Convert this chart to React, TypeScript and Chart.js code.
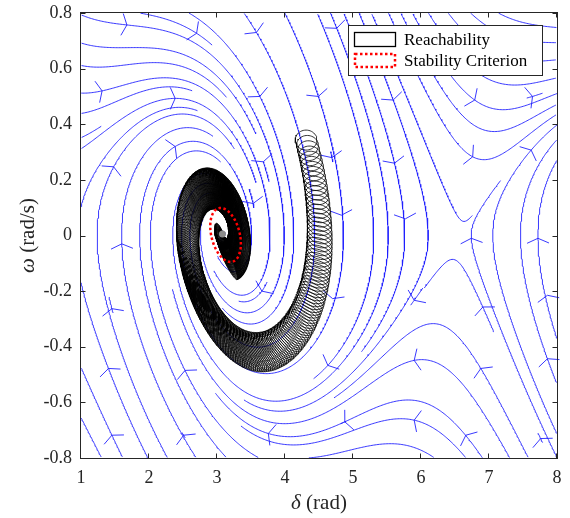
import React, { useEffect, useRef } from "react";
import { Chart, registerables } from "chart.js";

Chart.register(...registerables);

// ---------------- axes ----------------
const X_RANGE = [1, 8];
const Y_RANGE = [-0.8, 0.8];
const X_TICKS = [1, 2, 3, 4, 5, 6, 7, 8];
const Y_TICKS = [-0.8, -0.6, -0.4, -0.2, 0, 0.2, 0.4, 0.6, 0.8];
const X_TITLE = ["δ", " (rad)"];
const Y_TITLE = ["ω", " (rad/s)"];
const LEGEND_LABELS = ["Reachability", "Stability Criterion"];

// ---------------- swing-type model read from the portrait ----------------
const STABLE_EQ_DELTA = 3.1; // stable focus
const SADDLE_EQ_DELTA = 6.57; // saddle point
const STIFFNESS = 0.22;
const DAMPING = 0.27;

// streamline arrow positions (δ, ω)
const ARROW_DELTA = [
  1.675, 2.7, 3.58, 4.76, 1.31, 2.385, 3.63, 4.49, 5.59, 6.79, 7.64, 2.385, 1.48, 3.68,
  4.69, 5.61, 6.76, 7.62, 3.53, 4.83, 5.77, 1.6, 6.74, 7.72, 3.66, 4.7, 5.9, 6.91, 7.86,
  1.455, 1.405, 2.53, 4.63, 5.9, 6.88, 7.86, 1.455, 2.51, 3.755, 4.88, 5.9, 6.66, 7.76,
];
const ARROW_OMEGA = [
  0.757, 0.727, 0.73, 0.745, 0.52, 0.493, 0.5, 0.5, 0.487, 0.487, 0.5, 0.32, 0.247, 0.265,
  0.28, 0.26, 0.283, 0.307, 0.115, 0.073, 0.06, -0.03, -0.01, -0.01, -0.2, -0.227, -0.233,
  -0.257, -0.215, -0.263, -0.478, -0.485, -0.467, -0.449, -0.478, -0.443, -0.718, -0.718,
  -0.712, -0.67, -0.664, -0.718, -0.73,
];

// further streamline crossings read on the left edge (δ, ω)
const EDGE_SEED_DELTA = [1.03, 1.03, 1.03, 1.03, 1.03];
const EDGE_SEED_OMEGA = [0.69, 0.61, 0.44, 0.355, 0.13];

// reachability: initial set and propagation
const REACH_START = [4.31, 0.343];
const REACH_RADII = [0.16, 0.036];
const REACH_TIME_STEP = 0.06;
const REACH_STEPS = 330;
const REACH_GROWTH = 0.14;

// stability criterion ellipse
const STAB_CENTER = [3.126, 0.002];
const STAB_RADII = [0.213, 0.097];
const STAB_SKEW = -0.073;

// equilibrium marker
const EQ_MARK = [3.08, 0.005];

// ---------------- helpers ----------------
const PLOT_W = 476;
const PLOT_H = 445;
const SX = PLOT_W / (X_RANGE[1] - X_RANGE[0]);
const SY = PLOT_H / (Y_RANGE[1] - Y_RANGE[0]);

const ANG = (Math.PI - (SADDLE_EQ_DELTA - STABLE_EQ_DELTA)) / 2;
const PHI = STABLE_EQ_DELTA - ANG;
const PM = Math.sin(ANG);

function field(d: number, w: number): [number, number] {
  return [w, STIFFNESS * (PM - Math.sin(d - PHI)) - DAMPING * w];
}

function rk4(p: number[], dt: number): number[] {
  const [d, w] = p;
  const k1 = field(d, w);
  const k2 = field(d + (k1[0] * dt) / 2, w + (k1[1] * dt) / 2);
  const k3 = field(d + (k2[0] * dt) / 2, w + (k2[1] * dt) / 2);
  const k4 = field(d + k3[0] * dt, w + k3[1] * dt);
  return [
    d + (dt * (k1[0] + 2 * k2[0] + 2 * k3[0] + k4[0])) / 6,
    w + (dt * (k1[1] + 2 * k2[1] + 2 * k3[1] + k4[1])) / 6,
  ];
}

function unitDir(d: number, w: number, sgn: number): [number, number] | null {
  const [fd, fw] = field(d, w);
  const px = fd * SX;
  const py = fw * SY;
  const len = Math.hypot(px, py);
  if (len < 0.8) return null;
  return [(sgn * px) / len / SX, (sgn * py) / len / SY];
}

const START_N = 17;
const END_N = 68;
function cellIndex(d: number, w: number, n: number) {
  const i = Math.max(0, Math.min(n - 1, Math.floor(((d - X_RANGE[0]) / (X_RANGE[1] - X_RANGE[0])) * n)));
  const j = Math.max(0, Math.min(n - 1, Math.floor(((w - Y_RANGE[0]) / (Y_RANGE[1] - Y_RANGE[0])) * n)));
  return j * n + i;
}

function traceHalf(d0: number, w0: number, sgn: number, own: Set<number>, occ: Set<number>) {
  const pts: number[][] = [];
  let d = d0;
  let w = w0;
  let cell = cellIndex(d, w, END_N);
  let sameCount = 0;
  const h = 1.5;
  for (let k = 0; k < 4000; k++) {
    const k1 = unitDir(d, w, sgn);
    if (!k1) break;
    const k2 = unitDir(d + (k1[0] * h) / 2, w + (k1[1] * h) / 2, sgn);
    if (!k2) break;
    const nd = d + k2[0] * h;
    const nw = w + k2[1] * h;
    if (nd < X_RANGE[0] || nd > X_RANGE[1] || nw < Y_RANGE[0] || nw > Y_RANGE[1]) break;
    const c = cellIndex(nd, nw, END_N);
    if (c !== cell) {
      if (occ.has(c) || own.has(c)) break;
      own.add(c);
      cell = c;
      sameCount = 0;
    } else if (++sameCount > 30) break;
    d = nd;
    w = nw;
    pts.push([d, w]);
  }
  return pts;
}

function buildStreamlines() {
  const occ = new Set<number>();
  const startUsed = new Set<number>();
  const seeds: [number, number, boolean][] = [];
  ARROW_DELTA.forEach((d, i) => seeds.push([d, ARROW_OMEGA[i], true]));
  EDGE_SEED_DELTA.forEach((d, i) => seeds.push([d, EDGE_SEED_OMEGA[i], true]));
  const dx = (X_RANGE[1] - X_RANGE[0]) / START_N;
  const dy = (Y_RANGE[1] - Y_RANGE[0]) / START_N;
  for (let j = START_N - 1; j >= 0; j--)
    for (let i = 0; i < START_N; i++)
      seeds.push([X_RANGE[0] + (i + 0.5) * dx, Y_RANGE[0] + (j + 0.5) * dy, false]);
  const out: { x: number; y: number | null }[] = [];
  for (const [d, w, forced] of seeds) {
    if (!forced && (startUsed.has(cellIndex(d, w, START_N)) || occ.has(cellIndex(d, w, END_N)))) continue;
    const own = new Set<number>([cellIndex(d, w, END_N)]);
    const f = traceHalf(d, w, 1, own, occ);
    const b = traceHalf(d, w, -1, own, occ);
    const line = [...b.reverse(), [d, w], ...f];
    if (line.length < 5) continue;
    own.forEach((c) => occ.add(c));
    line.forEach((p) => startUsed.add(cellIndex(p[0], p[1], START_N)));
    line.forEach((p) => out.push({ x: p[0], y: p[1] }));
    out.push({ x: d, y: null });
  }
  return out;
}

function buildReach() {
  const N = 48;
  let c = [...REACH_START];
  let pts: number[][] = [];
  for (let k = 0; k < N; k++) {
    const t = (2 * Math.PI * k) / N;
    pts.push([c[0] + REACH_RADII[0] * Math.cos(t), c[1] + REACH_RADII[1] * Math.sin(t)]);
  }
  const out: { x: number; y: number | null }[] = [];
  for (let s = 0; s <= REACH_STEPS; s++) {
    const g = Math.exp(REACH_GROWTH * s * REACH_TIME_STEP);
    for (let k = 0; k <= N; k++) {
      const p = pts[k % N];
      out.push({ x: c[0] + g * (p[0] - c[0]), y: c[1] + g * (p[1] - c[1]) });
    }
    out.push({ x: c[0], y: null });
    c = rk4(c, REACH_TIME_STEP);
    pts = pts.map((p) => rk4(p, REACH_TIME_STEP));
  }
  return out;
}

function buildStab() {
  const out: { x: number; y: number }[] = [];
  const N = 160;
  for (let k = 0; k <= N; k++) {
    const t = (2 * Math.PI * k) / N;
    out.push({
      x: STAB_CENTER[0] + STAB_RADII[0] * Math.cos(t) + STAB_SKEW * Math.sin(t),
      y: STAB_CENTER[1] + STAB_RADII[1] * Math.sin(t),
    });
  }
  return out;
}

const AXIS_COLOR = "#262626";
const FONT = "'Liberation Serif', 'Times New Roman', serif";
const BLUE = "rgba(30,30,255,0.88)";

const arrowPlugin = {
  id: "streamArrows",
  beforeDatasetsDraw(chart: any) {
    const { ctx } = chart;
    const xs = chart.scales.x;
    const ys = chart.scales.y;
    ctx.save();
    ctx.strokeStyle = BLUE;
    ctx.lineWidth = 1;
    const L = 12;
    const th = (66 * Math.PI) / 180;
    ARROW_DELTA.forEach((d, i) => {
      const w = ARROW_OMEGA[i];
      const px = xs.getPixelForValue(d);
      const py = ys.getPixelForValue(w);
      const [fd, fw] = field(d, w);
      const ux0 = xs.getPixelForValue(d + fd * 0.001) - px;
      const uy0 = ys.getPixelForValue(w + fw * 0.001) - py;
      const len = Math.hypot(ux0, uy0) || 1;
      const ux = ux0 / len;
      const uy = uy0 / len;
      const nx = -uy;
      const ny = ux;
      const bx = -Math.cos(th) * L;
      const sy = Math.sin(th) * L;
      ctx.beginPath();
      ctx.moveTo(px + bx * ux + sy * nx, py + bx * uy + sy * ny);
      ctx.lineTo(px, py);
      ctx.lineTo(px + bx * ux - sy * nx, py + bx * uy - sy * ny);
      ctx.stroke();
    });
    ctx.restore();
  },
};

const framePlugin = {
  id: "frame",
  afterDatasetsDraw(chart: any) {
    const { ctx, chartArea: a } = chart;
    const xs = chart.scales.x;
    const ys = chart.scales.y;
    ctx.save();
    ctx.strokeStyle = AXIS_COLOR;
    ctx.lineWidth = 1;
    const l = a.left - 0.5;
    const r = a.right + 0.5;
    const t = a.top - 0.5;
    const b = a.bottom + 0.5;
    ctx.strokeRect(l, t, r - l, b - t);
    const T = 5;
    ctx.beginPath();
    X_TICKS.forEach((v) => {
      const x = Math.round(xs.getPixelForValue(v)) - 0.5;
      ctx.moveTo(x, b);
      ctx.lineTo(x, b - T);
      ctx.moveTo(x, t);
      ctx.lineTo(x, t + T);
    });
    Y_TICKS.forEach((v) => {
      const y = Math.round(ys.getPixelForValue(v)) + 0.5;
      ctx.moveTo(l, y);
      ctx.lineTo(l + T, y);
      ctx.moveTo(r, y);
      ctx.lineTo(r - T, y);
    });
    ctx.stroke();
    ctx.restore();
  },
};

const decorPlugin = {
  id: "decor",
  afterDraw(chart: any) {
    const { ctx, chartArea: a } = chart;
    ctx.save();
    const size = 21;
    const fi = `italic ${size}px ${FONT}`;
    const fn = `${size}px ${FONT}`;
    ctx.fillStyle = AXIS_COLOR;
    ctx.textBaseline = "alphabetic";
    ctx.textAlign = "left";
    ctx.font = fi;
    const w1 = ctx.measureText(X_TITLE[0]).width;
    ctx.font = fn;
    const w2 = ctx.measureText(X_TITLE[1]).width;
    const cx = (a.left + a.right) / 2;
    let x0 = cx - (w1 + w2) / 2;
    ctx.font = fi;
    ctx.fillText(X_TITLE[0], x0, 509);
    ctx.font = fn;
    ctx.fillText(X_TITLE[1], x0 + w1, 509);

    ctx.font = fi;
    const v1 = ctx.measureText(Y_TITLE[0]).width;
    ctx.font = fn;
    const v2 = ctx.measureText(Y_TITLE[1]).width;
    ctx.translate(34, (a.top + a.bottom) / 2);
    ctx.rotate(-Math.PI / 2);
    x0 = -(v1 + v2) / 2;
    ctx.font = fi;
    ctx.fillText(Y_TITLE[0], x0, 0);
    ctx.font = fn;
    ctx.fillText(Y_TITLE[1], x0 + v1, 0);
    ctx.restore();

    // legend
    ctx.save();
    const bw = 194;
    const bh = 50;
    const lx = a.right - 15 - bw;
    const ly = a.top + 12;
    ctx.fillStyle = "#ffffff";
    ctx.fillRect(lx, ly, bw, bh);
    ctx.strokeStyle = AXIS_COLOR;
    ctx.lineWidth = 1;
    ctx.strokeRect(lx + 0.5, ly + 0.5, bw, bh);
    ctx.strokeStyle = "#000";
    ctx.lineWidth = 1.3;
    ctx.strokeRect(lx + 6.5, ly + 7.5, 41, 14);
    ctx.strokeStyle = "#ff0000";
    ctx.lineWidth = 2.5;
    ctx.setLineDash([2.5, 2.5]);
    ctx.strokeRect(lx + 7, ly + 29, 40, 13);
    ctx.setLineDash([]);
    ctx.fillStyle = "#000";
    ctx.font = `17px ${FONT}`;
    ctx.textBaseline = "alphabetic";
    ctx.fillText(LEGEND_LABELS[0], lx + 56, ly + 20);
    ctx.fillText(LEGEND_LABELS[1], lx + 56, ly + 41);
    ctx.restore();
  },
};

export default function App() {
  const ref = useRef<HTMLCanvasElement>(null);
  useEffect(() => {
    const canvas = ref.current!;
    const streams = buildStreamlines();
    const reach = buildReach();
    const stab = buildStab();
    const chart = new Chart(canvas, {
      type: "scatter",
      data: {
        datasets: [
          {
            label: "equilibrium",
            data: [{ x: EQ_MARK[0], y: EQ_MARK[1] }],
            pointRadius: 3.5,
            pointBackgroundColor: "#8a8a8a",
            pointBorderWidth: 0,
            showLine: false,
            order: 0,
          },
          {
            label: LEGEND_LABELS[1],
            data: stab,
            showLine: true,
            borderColor: "#ff0000",
            borderWidth: 2.5,
            borderDash: [2.5, 2.5],
            pointRadius: 0,
            order: 1,
          },
          {
            label: LEGEND_LABELS[0],
            data: reach as any,
            showLine: true,
            borderColor: "#000000",
            borderWidth: 0.8,
            pointRadius: 0,
            spanGaps: false,
            order: 2,
          },
          {
            label: "streamlines",
            data: streams as any,
            showLine: true,
            borderColor: BLUE,
            borderWidth: 1,
            pointRadius: 0,
            spanGaps: false,
            order: 3,
          },
        ],
      },
      options: {
        animation: false,
        responsive: false,
        devicePixelRatio: 1,
        layout: { padding: { left: 0, right: 13, top: 13, bottom: 0 } },
        plugins: { legend: { display: false }, tooltip: { enabled: false } },
        scales: {
          x: {
            type: "linear",
            min: X_RANGE[0],
            max: X_RANGE[1],
            grid: { display: false, drawTicks: false },
            border: { display: false },
            afterBuildTicks: (s: any) => {
              s.ticks = X_TICKS.map((v) => ({ value: v }));
            },
            afterFit: (s: any) => {
              s.height = 60;
              s.paddingLeft = 0;
              s.paddingRight = 0;
            },
            ticks: {
              autoSkip: false,
              maxRotation: 0,
              padding: 9,
              color: AXIS_COLOR,
              font: { family: FONT, size: 18 },
              callback: (v: any) => String(v),
            },
          },
          y: {
            type: "linear",
            min: Y_RANGE[0],
            max: Y_RANGE[1],
            grid: { display: false, drawTicks: false },
            border: { display: false },
            afterBuildTicks: (s: any) => {
              s.ticks = Y_TICKS.map((v) => ({ value: v }));
            },
            afterFit: (s: any) => {
              s.width = 81;
              s.paddingTop = 0;
              s.paddingBottom = 0;
            },
            ticks: {
              autoSkip: false,
              padding: 9,
              color: AXIS_COLOR,
              font: { family: FONT, size: 18 },
              callback: (v: any) => String(Math.round(Number(v) * 10) / 10),
            },
          },
        },
      },
      plugins: [arrowPlugin, framePlugin, decorPlugin],
    });
    return () => chart.destroy();
  }, []);
  return (
    <div style={{ position: "fixed", left: 0, top: 0, width: 570, height: 518, background: "#fff" }}>
      <canvas ref={ref} width={570} height={518} style={{ display: "block", width: 570, height: 518 }} />
    </div>
  );
}
